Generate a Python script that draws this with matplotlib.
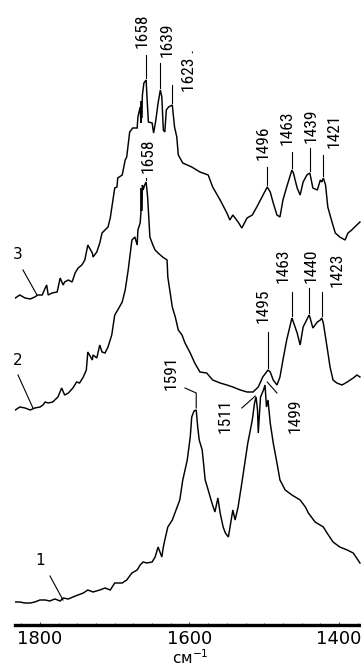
import matplotlib
matplotlib.use("Agg")
import matplotlib.pyplot as plt

# --- spectra (wavenumber, cm-1 ; intensity, a.u., stacked) ---
wn_3 = [1833, 1827, 1820, 1813, 1807, 1803, 1797, 1793, 1791, 1789, 1784, 1777, 1773, 1769,
        1767, 1762, 1757, 1753, 1749, 1744, 1740, 1736, 1730, 1729, 1724, 1720, 1717, 1713,
        1709, 1706, 1700, 1697, 1696, 1690, 1686, 1684, 1680, 1676, 1670, 1669, 1666, 1665,
        1664.5, 1664, 1663, 1661, 1658, 1657, 1655, 1650, 1648, 1645, 1642, 1639, 1637, 1635,
        1633, 1631, 1628, 1623, 1620, 1617, 1615, 1609, 1597, 1586, 1575, 1569, 1559, 1550,
        1546, 1542, 1535, 1530, 1523, 1516, 1510, 1503, 1496, 1492, 1488, 1483, 1479, 1475,
        1470, 1463, 1461, 1456, 1452, 1448, 1443, 1439, 1435, 1429, 1425, 1423, 1421, 1418,
        1415, 1409, 1405, 1399, 1392, 1388, 1383, 1379, 1372]
int_3 = [3.25, 3.28, 3.25, 3.24, 3.26, 3.28, 3.28, 3.35, 3.38, 3.28, 3.30, 3.31, 3.45, 3.38,
         3.41, 3.43, 3.41, 3.50, 3.55, 3.58, 3.63, 3.78, 3.70, 3.66, 3.71, 3.80, 3.90, 3.93,
         3.96, 4.05, 4.35, 4.36, 4.45, 4.48, 4.63, 4.66, 4.91, 4.95, 4.95, 5.06, 5.16, 5.00,
         5.22, 5.05, 5.28, 5.40, 5.43, 5.28, 5.01, 5.00, 4.90, 5.03, 5.20, 5.33, 5.26, 4.93,
         4.91, 5.13, 5.16, 5.18, 4.96, 4.86, 4.68, 4.60, 4.56, 4.51, 4.48, 4.36, 4.23, 4.10,
         4.03, 4.08, 4.01, 3.95, 4.05, 4.08, 4.16, 4.26, 4.36, 4.31, 4.20, 4.08, 4.06, 4.23,
         4.36, 4.53, 4.50, 4.35, 4.28, 4.41, 4.48, 4.50, 4.35, 4.33, 4.43, 4.41, 4.45, 4.38,
         4.16, 4.00, 3.90, 3.86, 3.83, 3.90, 3.93, 3.96, 4.01]

wn_2 = [1833, 1827, 1820, 1813, 1807, 1800, 1796, 1793, 1789, 1783, 1776, 1771, 1767, 1762,
        1756, 1751, 1747, 1742, 1738, 1736, 1730, 1729, 1724, 1720, 1717, 1713, 1709, 1704,
        1700, 1696, 1690, 1686, 1682, 1677, 1673, 1670, 1669, 1666, 1665, 1664.5, 1664, 1663,
        1662, 1660, 1658, 1656, 1653, 1649, 1646, 1642, 1636, 1630, 1629, 1623, 1619, 1615,
        1610, 1606, 1599, 1593, 1586, 1577, 1569, 1559, 1550, 1542, 1532, 1523, 1515, 1508,
        1502, 1495, 1492, 1488, 1483, 1479, 1475, 1470, 1463, 1462, 1456, 1452, 1448, 1440,
        1439, 1435, 1429, 1425, 1423, 1421, 1416, 1412, 1408, 1403, 1396, 1389, 1385, 1381,
        1376, 1372]
int_2 = [2.13, 2.16, 2.15, 2.13, 2.15, 2.16, 2.18, 2.21, 2.20, 2.21, 2.26, 2.35, 2.28, 2.30,
         2.35, 2.41, 2.40, 2.46, 2.53, 2.71, 2.63, 2.68, 2.65, 2.78, 2.71, 2.70, 2.76, 2.88,
         3.08, 3.13, 3.21, 3.33, 3.53, 3.83, 3.86, 3.78, 3.93, 4.00, 4.10, 4.35, 4.12, 4.38,
         4.33, 4.38, 4.41, 4.26, 3.86, 3.78, 3.73, 3.70, 3.66, 3.63, 3.46, 3.16, 3.06, 2.93,
         2.88, 2.80, 2.70, 2.60, 2.51, 2.50, 2.43, 2.40, 2.38, 2.36, 2.33, 2.31, 2.31, 2.36,
         2.46, 2.53, 2.51, 2.43, 2.38, 2.46, 2.63, 2.83, 3.05, 3.03, 2.90, 2.78, 2.96, 3.08,
         3.06, 2.95, 3.01, 3.03, 3.05, 3.00, 2.76, 2.56, 2.43, 2.40, 2.38, 2.41, 2.43, 2.45,
         2.48, 2.46]

wn_1 = [1833, 1827, 1820, 1813, 1807, 1800, 1793, 1787, 1780, 1773, 1769, 1762, 1756, 1749,
        1742, 1736, 1729, 1720, 1713, 1706, 1700, 1690, 1684, 1677, 1670, 1666, 1662, 1657,
        1650, 1646, 1642, 1637, 1635, 1633, 1629, 1623, 1619, 1613, 1609, 1603, 1599, 1597,
        1594, 1591, 1589, 1587, 1583, 1579, 1575, 1570, 1566, 1562, 1559, 1555, 1552, 1548,
        1546, 1542, 1539, 1535, 1530, 1526, 1522, 1516, 1513, 1511, 1509, 1508, 1505, 1501,
        1499, 1497, 1495, 1492, 1488, 1483, 1479, 1472, 1463, 1452, 1445, 1441, 1432, 1421,
        1416, 1408, 1399, 1389, 1381, 1372]
int_1 = [0.21, 0.21, 0.20, 0.20, 0.21, 0.23, 0.23, 0.22, 0.24, 0.22, 0.25, 0.24, 0.26, 0.28,
         0.30, 0.33, 0.31, 0.33, 0.35, 0.33, 0.40, 0.40, 0.43, 0.50, 0.53, 0.58, 0.61, 0.60,
         0.61, 0.66, 0.76, 0.66, 0.76, 0.83, 0.96, 1.03, 1.11, 1.23, 1.43, 1.63, 1.86, 2.06,
         2.12, 2.13, 1.96, 1.83, 1.73, 1.43, 1.33, 1.20, 1.11, 1.25, 1.10, 0.96, 0.90, 0.86,
         0.95, 1.13, 1.03, 1.16, 1.40, 1.60, 1.80, 2.03, 2.20, 2.26, 2.13, 1.90, 2.26, 2.33,
         2.38, 2.16, 2.23, 2.00, 1.80, 1.60, 1.43, 1.33, 1.28, 1.23, 1.16, 1.10, 1.01, 0.96,
         0.90, 0.81, 0.76, 0.73, 0.70, 0.60]

# --- peak labels: (text, peak position, label x, label bottom y, tick top y) ---
peaks_3 = [("1658", 1658, 1663, 5.75, 5.68),
           ("1639", 1639, 1629.5, 5.66, 5.60),
           ("1623 .", 1623, 1599.6, 5.31, 5.38),
           ("1496", 1496, 1501, 4.63, 4.56),
           ("1463", 1463, 1469, 4.78, 4.71),
           ("1439", 1439, 1437.5, 4.80, 4.75),
           ("1421", 1421, 1406.7, 4.75, 4.68)]
peaks_2 = [("1658", 1658, 1656, 4.50, 4.45),
           ("1495", 1495, 1501, 3.00, 2.91),
           ("1463", 1463, 1475, 3.40, 3.31),
           ("1440", 1440, 1437.5, 3.40, 3.35),
           ("1423", 1423, 1402, 3.36, 3.31)]

trace_labels = ["1", "2", "3"]
xtick_vals = [1800, 1600, 1400]

fig = plt.figure(figsize=(3.61, 6.68), dpi=100)
ax = fig.add_axes([15 / 361, 43.5 / 668, 346 / 361, 624.5 / 668])
ax.set_xlim(1833.4, 1370.6)
ax.set_ylim(-0.015, 6.23)

for wn, yv in ((wn_1, int_1), (wn_2, int_2), (wn_3, int_3)):
    ax.plot(wn, yv, color="black", lw=1.05, solid_joinstyle="miter")

narrow = ["Roboto Condensed", "DejaVu Sans"]
lab_kw = dict(rotation=90, ha="center", va="bottom", fontsize=12.5,
              family=narrow, color="black")

def peak_height(wn, yv, p):
    return yv[wn.index(p)]

for peaks, wn, yv in ((peaks_3, wn_3, int_3), (peaks_2, wn_2, int_2)):
    for txt, p, lx, ly, top in peaks:
        h = peak_height(wn, yv, p)
        ax.plot([p, p], [h + 0.02, top], color="black", lw=0.8)
        ax.text(lx, ly, txt, **lab_kw)

# bottom trace: labels with slanted leaders
ax.plot([1591, 1591, 1606], [2.15, 2.30, 2.35], color="black", lw=0.8)
ax.text(1624.7, 2.33, "1591", **lab_kw)
ax.plot([1530, 1512], [2.15, 2.27], color="black", lw=0.8)
ax.text(1552.5, 1.90, "1511", **lab_kw)
ax.plot([1496, 1483], [2.41, 2.30], color="black", lw=0.8)
ax.text(1459, 1.90, "1499", **lab_kw)

# trace numbers
num_kw = dict(ha="center", va="bottom", fontsize=11, family="DejaVu Sans")
ax.plot([1822.7, 1804], [3.53, 3.28], color="black", lw=0.8)
ax.text(1830, 3.61, trace_labels[2], **num_kw)
ax.plot([1829.4, 1809.4], [2.48, 2.15], color="black", lw=0.8)
ax.text(1829.4, 2.55, trace_labels[1], **num_kw)
ax.plot([1786.6, 1769.2], [0.47, 0.23], color="black", lw=0.8)
ax.text(1800, 0.55, trace_labels[0], **num_kw)

for s in ("left", "right", "top"):
    ax.spines[s].set_visible(False)
ax.spines["bottom"].set_linewidth(2.4)
ax.set_yticks([])
ax.set_xticks(xtick_vals)
ax.set_xticks(range(1825, 1370, -25), minor=True)
ax.tick_params(axis="x", which="both", direction="in", length=2.5, width=0.8,
               color="#555555", pad=4, labelsize=13)
ax.tick_params(axis="x", which="minor", length=1.5)
for lbl in ax.get_xticklabels():
    lbl.set_family("DejaVu Sans")

fig.text(190 / 361, 4 / 668, "см$^{-1}$", ha="center", va="baseline",
         fontsize=11, family="DejaVu Sans")

fig.savefig("out.png", dpi=100)
